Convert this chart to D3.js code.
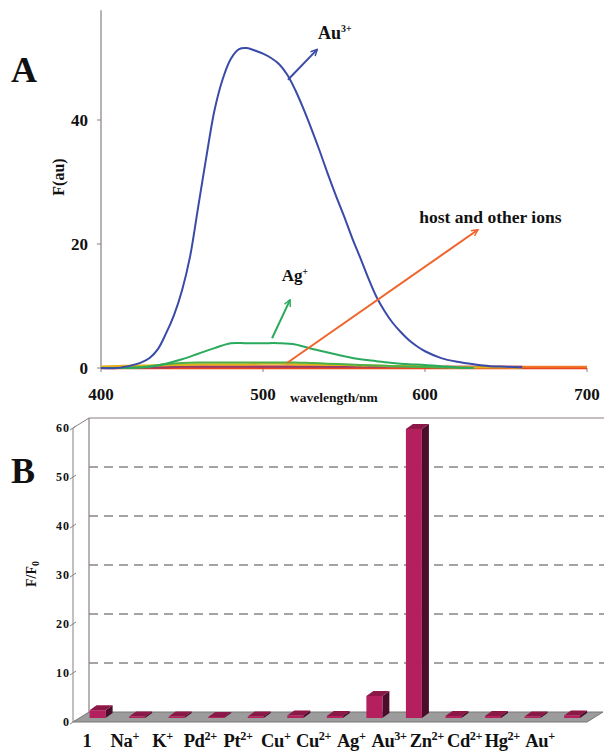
<!DOCTYPE html>
<html><head><meta charset="utf-8">
<script src="https://cdn.jsdelivr.net/npm/d3@7"></script>
<style>body{margin:0;background:#fff}svg{display:block}text{font-family:"Liberation Serif","Times New Roman",serif;font-weight:bold;fill:#111}</style>
</head><body>
<svg id="c" width="604" height="751"></svg>
<script>
// ---------- Panel A data ----------
const au3Wavelengths = [400,410,420,425,430,435,440,445,450,455,460,465,470,475,480,485,490,495,500,505,510,515,520,525,530,535,540,545,550,555,560,565,570,575,580,585,590,595,600,610,620,630,640,650,660];
const au3Series      = [0,0,0.5,0.9,1.6,3.0,5.5,8.5,12.5,18,26,34,41.5,46.5,49.8,51.4,51.6,51.2,50.7,50,49,47.3,44.8,41.8,38.5,35,31.3,27.8,24.5,21,17.8,14.5,11.5,9.2,7.3,5.8,4.5,3.5,2.7,1.6,1.0,0.6,0.3,0.2,0.1];
const wavelengths = [400,410,420,430,440,450,460,470,480,490,500,510,520,530,540,550,560,570,580,590,600,610,620,630,640,650,660,670,680,690,700];
const agSeries    = [0,0,0,0.2,0.7,1.4,2.3,3.2,4.0,4.0,4.0,4.0,3.8,3.1,2.5,1.9,1.4,1.1,0.8,0.6,0.5,0.3,0.1,0,null,null,null,null,null,null,null];
const otherGreen  = [0,0,0.1,0.3,0.6,0.8,0.9,0.9,0.9,0.9,0.9,0.9,0.9,0.8,0.7,0.6,0.5,0.4,0.3,0.2,0.15,0.1,0.05,0,null,null,null,null,null,null,null];
const otherYellow = [0.2,0.3,0.4,0.4,0.5,0.5,0.6,0.6,0.6,0.6,0.7,0.7,0.6,0.6,0.5,0.5,0.4,0.4,0.3,0.3,0.2,0.2,0.1,0.1,0.1,0.1,0,null,null,null,null];
const otherPurple = [0.1,0.1,0.1,0.1,0.1,0.2,0.2,0.2,0.2,0.2,0.2,0.2,0.2,0.2,0.2,0.2,0.2,0.2,0.2,0.2,0.2,0.2,0.2,0.2,0.2,0.2,0.2,null,null,null,null];
const otherOrange = [0.2,0.2,0.2,0.2,0.3,0.3,0.3,0.3,0.3,0.3,0.3,0.3,0.3,0.3,0.3,0.3,0.2,0.2,0.2,0.2,0.2,0.2,0.2,0.2,0.2,0.2,0.2,0.2,0.2,0.2,0.2];
const otherRed    = [0.05,0.05,0.05,0.05,0.05,0.05,0.05,0.05,0.05,0.05,0.05,0.05,0.05,0.05,0.05,0.05,0.05,0.05,0.05,0.05,0.05,0.05,0.05,0.05,0.05,0.05,0.05,0.05,0.05,0.05,0.05];
const xTicksA = [400,500,600,700];
const yTicksA = [0,20,40];

// ---------- Panel B data ----------
const ions = ["1","Na+","K+","Pd2+","Pt2+","Cu+","Cu2+","Ag+","Au3+","Zn2+","Cd2+","Hg2+","Au+"];
const ionBase = ["1","Na","K","Pd","Pt","Cu","Cu","Ag","Au","Zn","Cd","Hg","Au"];
const ionSup  = ["","+","+","2+","2+","+","2+","+","3+","2+","2+","2+","+"];
const ratios  = [1.6,0.3,0.3,0.2,0.3,0.5,0.4,4.5,59,0.4,0.4,0.3,0.5];
const yTicksB = [0,10,20,30,40,50,60];

const svg = d3.select("#c");
const axisCol = "#8a7f7f";

// ===== Panel A =====
const xA = d3.scaleLinear().domain([400,700]).range([101,587]);
const yA = d3.scaleLinear().domain([0,40]).range([368,120]);

svg.append("text").attr("x",11).attr("y",82).attr("font-size",36).text("A");

const gA = svg.append("g");
gA.append("line").attr("x1",xA(400)).attr("x2",xA(400)).attr("y1",yA(0)).attr("y2",yA(57.7)).attr("stroke",axisCol).attr("stroke-width",1.2);
yTicksA.forEach(t=>{
  gA.append("line").attr("x1",xA(400)-4).attr("x2",xA(400)).attr("y1",yA(t)).attr("y2",yA(t)).attr("stroke",axisCol);
  gA.append("text").attr("x",88).attr("y",yA(t)+6).attr("text-anchor","end").attr("font-size",17).text(t);
});
gA.append("line").attr("x1",xA(400)).attr("x2",xA(700)).attr("y1",yA(0)).attr("y2",yA(0)).attr("stroke",axisCol).attr("stroke-width",1.2);
xTicksA.forEach(t=>{
  gA.append("line").attr("x1",xA(t)).attr("x2",xA(t)).attr("y1",yA(0)).attr("y2",yA(0)+4).attr("stroke",axisCol);
  gA.append("text").attr("x",xA(t)).attr("y",400).attr("text-anchor","middle").attr("font-size",17).text(t);
});
gA.append("text").attr("x",290).attr("y",402).attr("font-size",13.5).text("wavelength/nm");
gA.append("text").attr("transform","translate(64,177) rotate(-90)").attr("text-anchor","middle").attr("font-size",16).text("F(au)");

const lineA = d3.line().defined(d=>d[1]!==null).x(d=>xA(d[0])).y(d=>yA(d[1])).curve(d3.curveCatmullRom.alpha(0.5));
const seriesA = [
  {w:wavelengths, v:otherRed,    c:"#e8421e", sw:3.2},
  {w:wavelengths, v:otherOrange, c:"#f07a2a", sw:2},
  {w:wavelengths, v:otherPurple, c:"#9a3a6a", sw:2},
  {w:wavelengths, v:otherYellow, c:"#e2b21a", sw:2.2},
  {w:wavelengths, v:otherGreen,  c:"#4cb04a", sw:2},
  {w:wavelengths, v:agSeries,    c:"#2aaa5c", sw:2},
  {w:au3Wavelengths, v:au3Series, c:"#3a4aa8", sw:2}
];
seriesA.forEach(s=>{
  gA.append("path").datum(s.w.map((w,i)=>[w,s.v[i]]))
    .attr("d",lineA).attr("fill","none").attr("stroke",s.c).attr("stroke-width",s.sw);
});

const defs = svg.append("defs");
function marker(id,col){
  defs.append("marker").attr("id",id).attr("viewBox","0 0 10 10").attr("refX",9).attr("refY",5)
    .attr("markerWidth",8).attr("markerHeight",8).attr("orient","auto").attr("markerUnits","userSpaceOnUse")
    .append("path").attr("d","M1,1 L9,5 L1,9").attr("fill","none").attr("stroke",col).attr("stroke-width",1.8);
}
marker("mb","#3a4aa8"); marker("mg","#2aaa5c"); marker("mo","#f0642a");
function arrow(x1,y1,x2,y2,col,m){
  gA.append("line").attr("x1",xA(x1)).attr("y1",yA(y1)).attr("x2",xA(x2)).attr("y2",yA(y2))
    .attr("stroke",col).attr("stroke-width",2).attr("marker-end",`url(#${m})`);
}
arrow(515.4,46.5,533.5,51.4,"#3a4aa8","mb");
arrow(505.6,4.8,516.7,11.0,"#2aaa5c","mg");
arrow(514.8,0.8,632.7,22.3,"#f0642a","mo");

function supText(g,x,y,base,sup,size,anchor,ratio,ls){
  const t = g.append("text").attr("x",x).attr("y",y).attr("font-size",size).attr("text-anchor",anchor||"start");
  if(ls) t.attr("letter-spacing",ls);
  t.append("tspan").text(base);
  if(sup) t.append("tspan").attr("dy",-size*0.36).attr("font-size",size*(ratio||0.62)).text(sup);
  return t;
}
supText(gA,xA(534),yA(53.4)+2,"Au","3+",18,"start",0.55);
supText(gA,xA(511.5),yA(14.2)+1,"Ag","+",17,"start",0.55);
gA.append("text").attr("x",xA(596.5)).attr("y",223).attr("font-size",17.5).text("host and other ions");

// ===== Panel B =====
const gB = svg.append("g");
const dx = 16, dy = -10;
const yB = d3.scaleLinear().domain([0,60]).range([722,428]);
const xB = d3.scaleBand().domain(ions).range([73,587]).padding(0);
const xLab = d3.scalePoint().domain(ions).range([87,540]);

svg.append("text").attr("x",11).attr("y",483).attr("font-size",36).text("B");

const x0 = xB.range()[0], x1 = xB.range()[1];
gB.append("path").attr("d",`M${x0},${yB(0)} L${x1},${yB(0)} L${x1+dx},${yB(0)+dy} L${x0+dx},${yB(0)+dy} Z`)
  .attr("fill","#9c9c9c").attr("stroke","#777").attr("stroke-width",1);
gB.append("line").attr("x1",x0+dx).attr("x2",x0+dx).attr("y1",yB(0)+dy).attr("y2",yB(60)+dy).attr("stroke",axisCol).attr("stroke-width",1.2);
gB.append("line").attr("x1",x0+dx).attr("x2",604).attr("y1",yB(60)+dy).attr("y2",yB(60)+dy).attr("stroke",axisCol).attr("stroke-width",1.2);
gB.append("line").attr("x1",x0).attr("x2",x0).attr("y1",yB(0)).attr("y2",yB(60)).attr("stroke",axisCol).attr("stroke-width",1);
gB.append("line").attr("x1",x0).attr("x2",x0+dx).attr("y1",yB(60)).attr("y2",yB(60)+dy).attr("stroke",axisCol).attr("stroke-width",1);
yTicksB.filter(t=>t>0 && t<60).forEach(t=>{
  gB.append("line").attr("x1",x0+dx).attr("x2",604).attr("y1",yB(t)+dy).attr("y2",yB(t)+dy)
    .attr("stroke","#8a8585").attr("stroke-width",1.5).attr("stroke-dasharray","9,6");
});
yTicksB.forEach(t=>{
  gB.append("line").attr("x1",x0-3).attr("x2",x0+3).attr("y1",yB(t)+2).attr("y2",yB(t)-2).attr("stroke",axisCol);
  gB.append("text").attr("x",x0-3).attr("y",yB(t)+4).attr("text-anchor","end").attr("font-size",12).attr("letter-spacing",1).text(t);
});
const yl = gB.append("text").attr("transform","translate(36,574) rotate(-90)").attr("text-anchor","middle").attr("font-size",14);
yl.append("tspan").text("F/F");
yl.append("tspan").attr("dy",3).attr("font-size",10).text("0");

const bw = 16, bdx = 7, bdy = -5, off = -4;
ions.forEach((c,i)=>{
  const xl = xB(c) + xB.bandwidth()*0.42;
  const yb = yB(0) + off, yt = yB(ratios[i]) + off;
  gB.append("path").attr("d",`M${xl+bw},${yb} L${xl+bw+bdx},${yb+bdy} L${xl+bw+bdx},${yt+bdy} L${xl+bw},${yt} Z`).attr("fill","#4a0d2a");
  gB.append("path").attr("d",`M${xl},${yt} L${xl+bw},${yt} L${xl+bw+bdx},${yt+bdy} L${xl+bdx},${yt+bdy} Z`).attr("fill","#8c1848");
  gB.append("rect").attr("x",xl).attr("y",yt).attr("width",bw).attr("height",Math.max(0.8,yb-yt)).attr("fill","#b41f5e");
});
ions.forEach((c,i)=>{
  supText(gB,xLab(c),747,ionBase[i],ionSup[i],18.5,"middle",0.66,-0.4);
});
</script>
</body></html>
